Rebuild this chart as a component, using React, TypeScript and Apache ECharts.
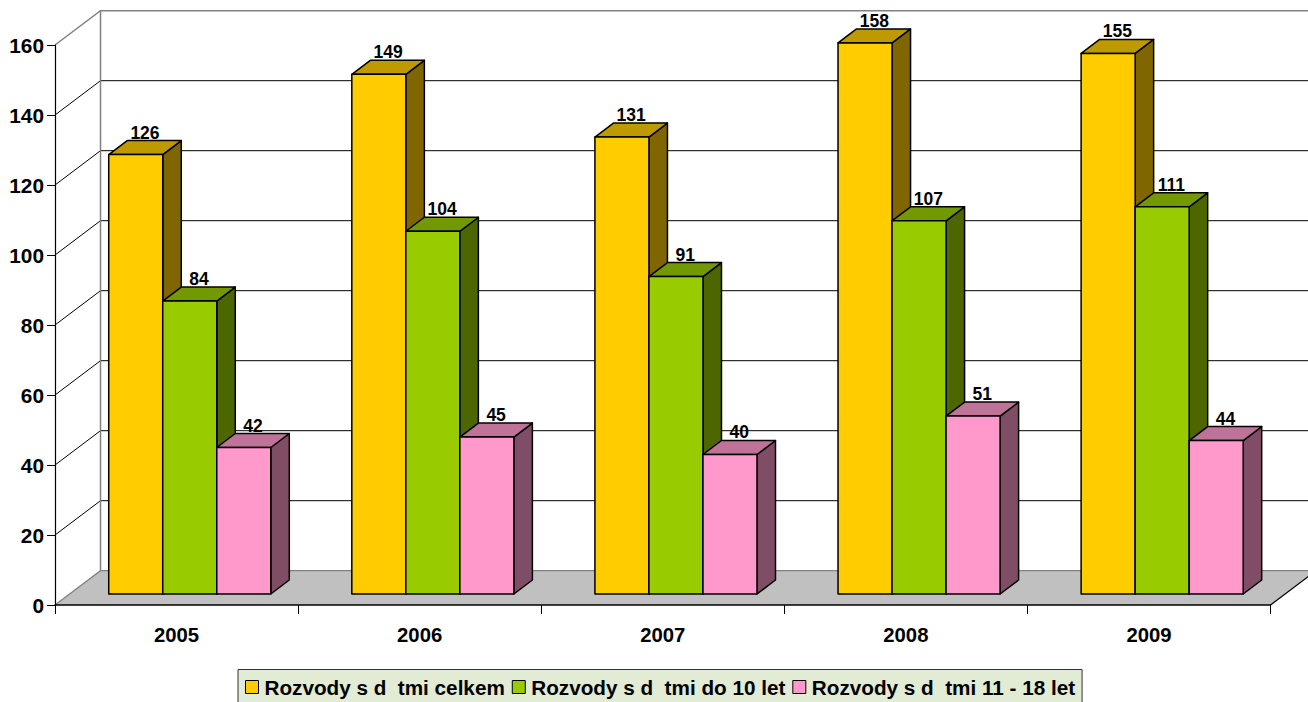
import React, { useEffect, useRef } from "react";
import * as echarts from "echarts";

const years = ["2005", "2006", "2007", "2008", "2009"];
const names = ["Rozvody s d  tmi celkem", "Rozvody s d  tmi do 10 let", "Rozvody s d  tmi 11 - 18 let"];
const celkem = [126, 149, 131, 158, 155];
const do10 = [84, 104, 91, 107, 111];
const od11 = [42, 45, 40, 51, 44];
const yTicks = [0, 20, 40, 60, 80, 100, 120, 140, 160];

const front = ["#FFCC00", "#99CC00", "#FF99CC"];
const topFace = ["#BF9900", "#739900", "#BF7399"];
const sideFace = ["#806600", "#4D6600", "#804D66"];

const FONT = "'Liberation Sans', Arial, sans-serif";
const WALL_DX = 45.5;
const WALL_DY = 34.3;
const BAR_DX = 18.5;
const BAR_DY = 14;
const FLOOR_INSET = 11;
const BAR_SCALE = 0.9965;

function barSeries(idx: number, values: number[]) {
  return {
    type: "custom",
    name: names[idx],
    z: 4 + idx,
    itemStyle: { color: front[idx] },
    data: values.map((v, i) => [i, v]),
    encode: { x: 0, y: 1 },
    renderItem: (_p: any, api: any) => {
      const c = api.value(0);
      const v = api.value(1);
      const band = api.size([1, 0])[0];
      const w = (band * 2) / 9;
      const zero = api.coord([c, 0]);
      const pt = api.coord([c, v]);
      const x = zero[0] - band / 2 + w + idx * w - 0.3;
      const yb = zero[1] - FLOOR_INSET;
      const yt = yb - (zero[1] - pt[1]) * BAR_SCALE;
      const line = { stroke: "#000", lineWidth: 1.5, lineJoin: "round" };
      return {
        type: "group",
        children: [
          {
            type: "polygon",
            shape: { points: [[x + w, yt], [x + w + BAR_DX, yt - BAR_DY], [x + w + BAR_DX, yb - BAR_DY], [x + w, yb]] },
            style: { fill: sideFace[idx], ...line },
          },
          {
            type: "polygon",
            shape: { points: [[x, yt], [x + BAR_DX, yt - BAR_DY], [x + w + BAR_DX, yt - BAR_DY], [x + w, yt]] },
            style: { fill: topFace[idx], ...line },
          },
          {
            type: "rect",
            shape: { x, y: yt, width: w, height: yb - yt },
            style: { fill: front[idx], ...line },
          },
          {
            type: "text",
            style: {
              x: x + w / 2 + BAR_DX / 2,
              y: yt - BAR_DY + 1,
              text: String(v),
              fill: "#000",
              font: `bold 17.5px ${FONT}`,
              textAlign: "center",
              textVerticalAlign: "bottom",
            },
          },
        ],
      };
    },
  };
}

const option: any = {
  animation: false,
  backgroundColor: "#fff",
  grid: { left: 55, right: 37.5, top: 45, bottom: 97, containLabel: false },
  legend: {
    data: names,
    left: 238,
    top: 669.5,
    orient: "horizontal",
    padding: [7, 7, 14, 7],
    itemGap: 7,
    itemWidth: 13,
    itemHeight: 13,
    icon: "rect",
    backgroundColor: "#E2EBD4",
    borderColor: "#333",
    borderWidth: 1,
    itemStyle: { borderColor: "#000", borderWidth: 1 },
    textStyle: { color: "#000", fontFamily: FONT, fontWeight: "bold", fontSize: 20.7, padding: [0, 0, 0, 1] },
    selectedMode: false,
  },
  xAxis: {
    type: "category",
    data: years,
    z: 8,
    axisLine: { lineStyle: { color: "#000", width: 1.5 } },
    axisTick: { show: true, length: 9, lineStyle: { color: "#000" } },
    axisLabel: { color: "#000", fontFamily: FONT, fontWeight: "bold", fontSize: 20.3, margin: 20 },
    splitLine: { show: false },
  },
  yAxis: {
    type: "value",
    min: 0,
    max: 160,
    interval: 20,
    z: 8,
    axisLine: { show: true, lineStyle: { color: "#000", width: 1.2 } },
    axisTick: { show: true, length: 8, lineStyle: { color: "#000" } },
    axisLabel: { color: "#000", fontFamily: FONT, fontWeight: "bold", fontSize: 20.8, margin: 11 },
    splitLine: { show: false },
  },
  series: [
    {
      type: "custom",
      name: "floor",
      z: 1,
      silent: true,
      data: [[0, 0]],
      encode: { x: 0, y: 1 },
      renderItem: (p: any, api: any) => {
        const s = p.coordSys;
        const y0 = api.coord([0, 0])[1];
        const l = s.x;
        const r = s.x + s.width;
        return {
          type: "group",
          children: [
            {
              type: "polygon",
              shape: { points: [[l, y0], [l + WALL_DX, y0 - WALL_DY], [r + WALL_DX, y0 - WALL_DY], [r, y0]] },
              style: { fill: "#C0C0C0", stroke: "none" },
            },
            {
              type: "polyline",
              shape: { points: [[l, y0], [l + WALL_DX, y0 - WALL_DY], [r + WALL_DX, y0 - WALL_DY]] },
              style: { fill: "none", stroke: "#808080", lineWidth: 1.3 },
            },
            {
              type: "line",
              shape: { x1: r, y1: y0, x2: r + WALL_DX, y2: y0 - WALL_DY },
              style: { stroke: "#000", lineWidth: 1.2 },
            },
          ],
        };
      },
    },
    {
      type: "custom",
      name: "walls",
      z: 2,
      silent: true,
      data: yTicks.slice(1).map((v) => [0, v]),
      encode: { x: 0, y: 1 },
      renderItem: (p: any, api: any) => {
        const s = p.coordSys;
        const v = api.value(1);
        const y = api.coord([0, v])[1];
        const l = s.x;
        const r = s.x + s.width;
        const isTop = v === yTicks[yTicks.length - 1];
        return {
          type: "polyline",
          shape: { points: [[l, y], [l + WALL_DX, y - WALL_DY], [r + WALL_DX, y - WALL_DY]] },
          style: { fill: "none", stroke: isTop ? "#808080" : "#000", lineWidth: isTop ? 1.5 : 1 },
        };
      },
    },
    {
      type: "custom",
      name: "backLeft",
      z: 3,
      silent: true,
      data: [[0, 0]],
      encode: { x: 0, y: 1 },
      renderItem: (p: any, api: any) => {
        const s = p.coordSys;
        const top = api.coord([0, yTicks[yTicks.length - 1]])[1];
        const bottom = api.coord([0, 0])[1];
        const x = s.x + WALL_DX;
        return {
          type: "line",
          shape: { x1: x, y1: top - WALL_DY, x2: x, y2: bottom - WALL_DY },
          style: { stroke: "#808080", lineWidth: 1.5 },
        };
      },
    },
    barSeries(0, celkem),
    barSeries(1, do10),
    barSeries(2, od11),
  ],
};

export default function App() {
  const ref = useRef<HTMLDivElement>(null);
  useEffect(() => {
    const chart = echarts.init(ref.current!, undefined, { renderer: "svg" });
    chart.setOption(option);
    return () => chart.dispose();
  }, []);
  return <div ref={ref} style={{ position: "absolute", left: 0, top: 0, width: 1308, height: 702 }} />;
}
